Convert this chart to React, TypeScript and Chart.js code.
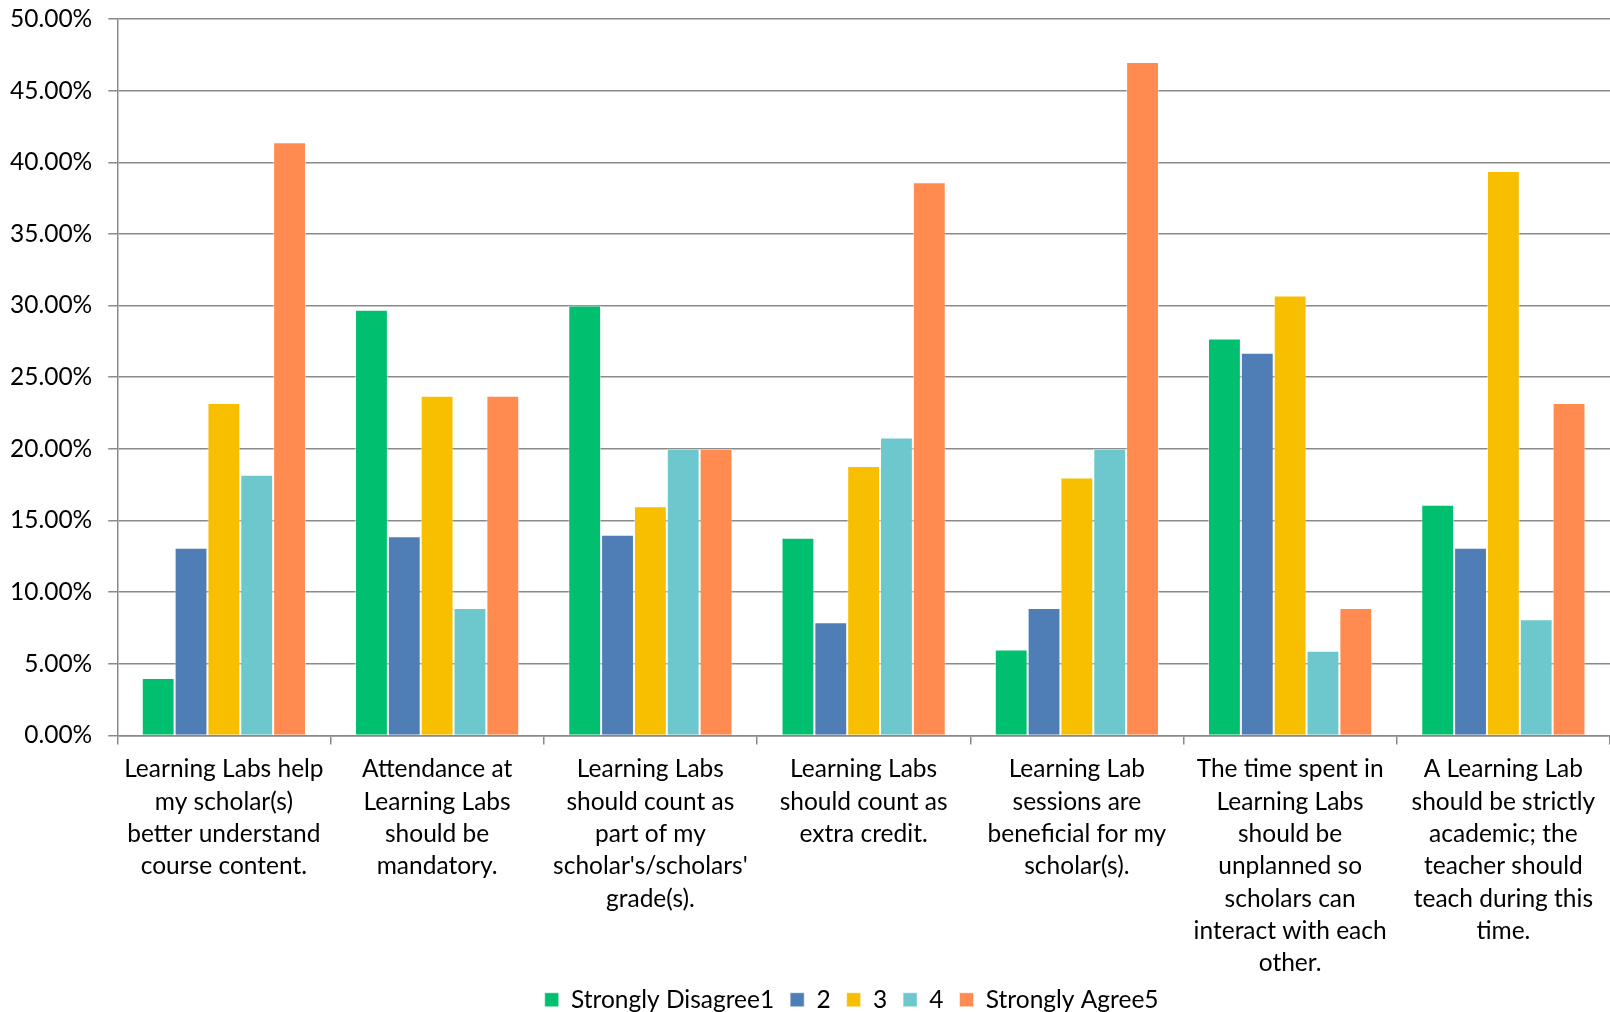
import React, { useEffect, useRef } from "react";
import { Chart, registerables } from "chart.js";

Chart.register(...registerables);

const categories: string[][] = [
  ["Learning Labs help", "my scholar(s)", "better understand", "course content."],
  ["Attendance at", "Learning Labs", "should be", "mandatory."],
  ["Learning Labs", "should count as", "part of my", "scholar's/scholars'", "grade(s)."],
  ["Learning Labs", "should count as", "extra credit."],
  ["Learning Lab", "sessions are", "beneficial for my", "scholar(s)."],
  ["The time spent in", "Learning Labs", "should be", "unplanned so", "scholars can", "interact with each", "other."],
  ["A Learning Lab", "should be strictly", "academic; the", "teacher should", "teach during this", "time."],
];

const seriesNames = ["Strongly Disagree1", "2", "3", "4", "Strongly Agree5"];

const stronglyDisagree1 = [4.0, 29.7, 30.0, 13.8, 6.0, 27.7, 16.1];
const rating2 = [13.1, 13.9, 14.0, 7.9, 8.9, 26.7, 13.1];
const rating3 = [23.2, 23.7, 16.0, 18.8, 18.0, 30.7, 39.4];
const rating4 = [18.2, 8.9, 20.0, 20.8, 20.0, 5.9, 8.1];
const stronglyAgree5 = [41.4, 23.7, 20.0, 38.6, 47.0, 8.9, 23.2];

const colors = ["#00BF6F", "#4F7DB5", "#F8BE00", "#6CC8CC", "#FF8B50"];

const FONT = "Lato";
const FS = 24.5;

const legendShift = {
  id: "legendShift",
  afterLayout(chart: any) {
    const lg = chart.legend;
    if (lg) {
      lg.top -= 17;
      lg.bottom -= 17;
      lg.left -= 12;
      lg.right -= 12;
    }
  },
};

export default function App() {
  const ref = useRef<HTMLCanvasElement | null>(null);

  useEffect(() => {
    if (!ref.current) return;
    const seriesData = [stronglyDisagree1, rating2, rating3, rating4, stronglyAgree5];
    const chart = new Chart(ref.current, {
      type: "bar",
      data: {
        labels: categories,
        datasets: seriesData.map((d, i) => ({
          label: seriesNames[i],
          data: d,
          backgroundColor: colors[i],
          borderColor: "rgba(255,255,255,0.5)",
          borderWidth: 1,
          categoryPercentage: 0.77,
          barPercentage: 1.0,
        })),
      },
      plugins: [legendShift],
      options: {
        animation: false,
        responsive: false,
        maintainAspectRatio: false,
        layout: { padding: { top: 19, left: -6, right: 0, bottom: -27 } },
        plugins: {
          legend: {
            position: "bottom",
            fullSize: false,
            labels: {
              boxWidth: 14,
              boxHeight: 14,
              padding: 16,
              color: "#000",
              font: { family: FONT, size: FS },
            },
          },
          tooltip: { enabled: false },
        },
        scales: {
          x: {
            grid: {
              drawOnChartArea: false,
              drawTicks: true,
              tickLength: 9,
              color: "#8a8a8a",
              lineWidth: 1.5,
            },
            border: { color: "#8a8a8a", width: 1.5 },
            ticks: {
              color: "#000",
              font: { family: FONT, size: FS, lineHeight: 32.3 / FS },
              maxRotation: 0,
              minRotation: 0,
              autoSkip: false,
              padding: 9,
            },
          },
          y: {
            min: 0,
            max: 50,
            grid: {
              color: "#8a8a8a",
              lineWidth: 1.5,
              drawTicks: true,
              tickLength: 9,
            },
            border: { color: "#8a8a8a", width: 1.5 },
            ticks: {
              stepSize: 5,
              color: "#000",
              padding: 16,
              font: { family: FONT, size: FS, lineHeight: 0.2 },
              callback: (v: any) => Number(v).toFixed(2) + "%",
            },
          },
        },
      },
    });
    return () => chart.destroy();
  }, []);

  return (
    <div style={{ position: "fixed", left: 0, top: 0, width: 1610, height: 1012, background: "#fff" }}>
      <canvas ref={ref} width={1610} height={1012} style={{ width: 1610, height: 1012 }} />
    </div>
  );
}
